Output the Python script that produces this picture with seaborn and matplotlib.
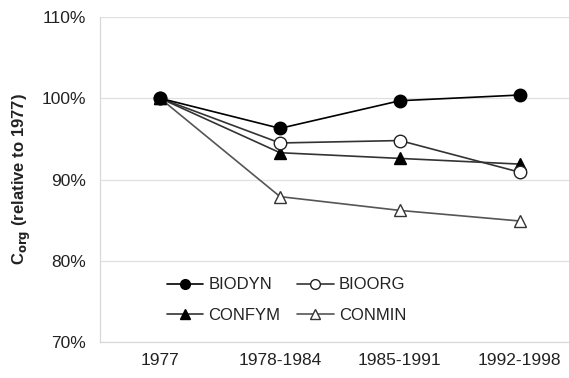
import matplotlib
matplotlib.use("Agg")
import matplotlib.pyplot as plt
import seaborn as sns
import pandas as pd
from matplotlib.lines import Line2D

periods = ["1977", "1978-1984", "1985-1991", "1992-1998"]
biodyn = [100.0, 96.3, 99.7, 100.4]
bioorg = [100.0, 94.5, 94.8, 90.9]
confym = [100.0, 93.3, 92.6, 91.9]
conmin = [100.0, 87.9, 86.2, 84.9]
yticks = [70, 80, 90, 100, 110]

sns.set_theme(style="white")
plt.rcParams['font.family'] = ['Liberation Sans', 'DejaVu Sans']

fig = plt.figure(figsize=(5.69, 3.78), dpi=100)
ax = fig.add_axes([0.176, 0.095, 0.824, 0.86])

styles = {
    "BIODYN": dict(color="#000000", marker="o", mfc="#000000", mec="#000000"),
    "BIOORG": dict(color="#333333", marker="o", mfc="white", mec="#222222"),
    "CONFYM": dict(color="#333333", marker="^", mfc="#000000", mec="#000000"),
    "CONMIN": dict(color="#555555", marker="^", mfc="white", mec="#333333"),
}
series = {"BIODYN": biodyn, "BIOORG": bioorg, "CONFYM": confym, "CONMIN": conmin}

order = ["CONMIN", "CONFYM", "BIOORG", "BIODYN"]
for name in order:
    df = pd.DataFrame({"period": periods, "value": series[name]})
    st = styles[name]
    sns.lineplot(data=df, x="period", y="value", ax=ax, color=st["color"],
                 marker=st["marker"], markerfacecolor=st["mfc"],
                 markeredgecolor=st["mec"], markersize=9, markeredgewidth=1.0,
                 linewidth=1.2, sort=False)

fs = 12.5
ax.set_ylim(70, 110)
ax.set_xlim(-0.5, 3.41)
ax.set_yticks(yticks)
ax.set_yticklabels([f"{v}%" for v in yticks], fontsize=fs, color="#222222")
ax.set_xticks(range(len(periods)))
ax.set_xticklabels(periods, fontsize=fs, color="#222222")
ax.set_xticks([-0.5, 0.5, 1.5, 2.5], minor=True)
ax.tick_params(axis="x", which="major", length=0, pad=8)
ax.tick_params(axis="x", which="minor", length=4, color="#d0d0d0", direction="out")
ax.tick_params(axis="y", length=4, color="#d0d0d0", direction="out", pad=6)
ax.yaxis.grid(True, color="#e0e0e0", linewidth=0.9)
ax.set_axisbelow(True)
for s in ["top", "right"]:
    ax.spines[s].set_visible(False)
for s in ["left", "bottom"]:
    ax.spines[s].set_color("#d8d8d8")
    ax.spines[s].set_linewidth(0.9)
ax.set_xlabel("")
ax.set_ylabel("C$_{\\mathbf{org}}$ (relative to 1977)", fontsize=12,
              fontweight="bold", color="#222222", labelpad=6)

handles = []
labels = []
for name in ["BIODYN", "CONFYM", "BIOORG", "CONMIN"]:
    st = styles[name]
    handles.append(Line2D([], [], color=st["color"], marker=st["marker"],
                          markerfacecolor=st["mfc"], markeredgecolor=st["mec"],
                          markersize=7, linewidth=1.2))
    labels.append(name)
leg = ax.legend(handles, labels, ncol=2, loc="lower left",
                bbox_to_anchor=(0.11, 0.012), frameon=False, fontsize=12,
                handlelength=2.2, columnspacing=1.0, handletextpad=0.3,
                labelspacing=0.95)
for t in leg.get_texts():
    t.set_color("#222222")

fig.savefig("out.png", dpi=100)
